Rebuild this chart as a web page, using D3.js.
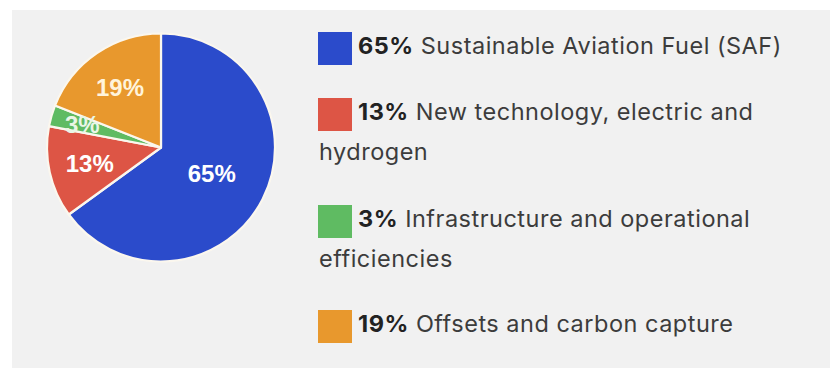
<!DOCTYPE html>
<html>
<head>
<meta charset="utf-8">
<script src="https://cdn.jsdelivr.net/npm/d3@7"></script>
<style>
  html, body { margin: 0; padding: 0; background: #ffffff; }
  svg { display: block; }
</style>
</head>
<body>
<svg id="chart" width="830" height="368"></svg>
<script>
// Aviation decarbonisation mix
const categories = [
  "Sustainable Aviation Fuel (SAF)",
  "New technology, electric and hydrogen",
  "Infrastructure and operational efficiencies",
  "Offsets and carbon capture"
];
const shares = [65, 13, 3, 19];
const colors = ["#2b4bcb", "#dd5545", "#5fbb62", "#e8982d"];
// legend text split into the lines it is set on
const legendLines = [
  ["Sustainable Aviation Fuel (SAF)"],
  ["New technology, electric and", "hydrogen"],
  ["Infrastructure and operational", "efficiencies"],
  ["Offsets and carbon capture"]
];

const svg = d3.select("#chart");

// grey card behind everything
svg.append("rect")
  .attr("x", 12).attr("y", 10)
  .attr("width", 830 - 12).attr("height", 368 - 10)
  .attr("fill", "#f1f1f1");

// ---- pie ----
const cx = 161, cy = 147.5, R = 114;
const data = categories.map((c, i) => ({ name: c, value: shares[i], color: colors[i] }));

const pie = d3.pie().sort(null).value(d => d.value);
const arc = d3.arc().innerRadius(0).outerRadius(R);

const g = svg.append("g").attr("transform", `translate(${cx},${cy})`);
const arcs = pie(data);

g.selectAll("path.slice")
  .data(arcs)
  .join("path")
  .attr("class", "slice")
  .attr("d", arc)
  .attr("fill", d => d.data.color)
  .attr("stroke", "#fbf7ee")
  .attr("stroke-width", 2.2)
  .attr("stroke-linejoin", "round");

// percentage labels inside the slices
const labelRadius = d => d.data.value > 50 ? 57 : (d.data.value < 5 ? 82 : 73);
g.selectAll("text.pct")
  .data(arcs)
  .join("text")
  .attr("class", "pct")
  .attr("transform", d => {
    const a = (d.startAngle + d.endAngle) / 2;
    const r = labelRadius(d);
    return `translate(${Math.sin(a) * r},${-Math.cos(a) * r})`;
  })
  .attr("text-anchor", "middle")
  .attr("dy", "0.36em")
  .attr("font-family", "'Liberation Sans', Arial, sans-serif")
  .attr("font-weight", "bold")
  .attr("font-size", 24)
  .attr("fill", d => d.data.value < 5 ? "#e9f6e6" : (d.data.value === 19 ? "#fff4dc" : "#ffffff"))
  .text(d => d.data.value + "%");

// ---- legend ----
const legendX = 318;
const firstBaselines = [54, 120, 227, 332];
const lineGap = 39.5;
const sw = 34, sh = 33;

const legend = svg.append("g")
  .attr("font-family", "Inter, 'Noto Sans', sans-serif")
  .attr("letter-spacing", "0.5px");

data.forEach((d, i) => {
  const base = firstBaselines[i];
  legend.append("rect")
    .attr("x", legendX).attr("y", base - 22)
    .attr("width", sw).attr("height", sh)
    .attr("fill", d.color);

  legendLines[i].forEach((line, j) => {
    const t = legend.append("text")
      .attr("x", j === 0 ? legendX + sw + 6 : legendX + 1)
      .attr("y", base + j * lineGap)
      .attr("font-size", 23.5)
      .attr("fill", "#3c3c3c");
    if (j === 0) {
      t.append("tspan").attr("font-weight", "bold").attr("fill", "#222").text(d.value + "%");
      t.append("tspan").text(" " + line);
    } else {
      t.text(line);
    }
  });
});
</script>
</body>
</html>
